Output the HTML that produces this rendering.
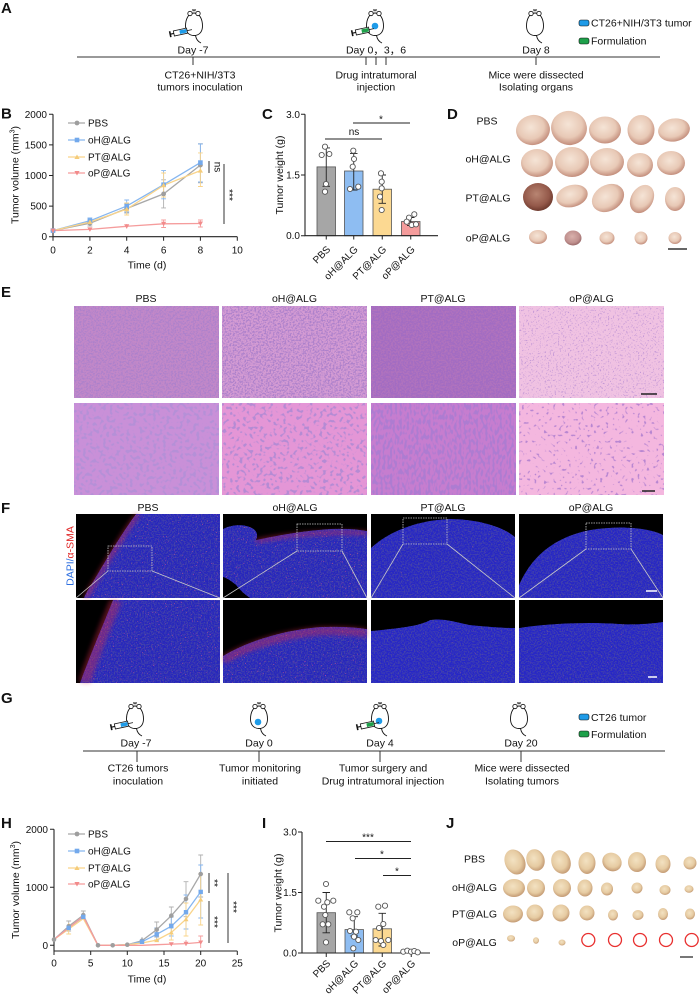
<!DOCTYPE html>
<html><head><meta charset="utf-8"><style>
html,body{margin:0;padding:0;background:#fff;}
svg{display:block;}
text{font-family:"Liberation Sans","Noto Sans CJK SC",Arial,sans-serif;fill:#111;}
</style></head><body>
<svg width="700" height="998" viewBox="0 0 700 998" xmlns="http://www.w3.org/2000/svg">
<defs>
 <g id="mouse">
  <path d="M0,-11 C6,-11 8.5,-4 8.5,2 C8.5,8 5,11.5 0,11.5 C-5,11.5 -8.5,8 -8.5,2 C-8.5,-4 -6,-11 0,-11 Z" fill="#fff" stroke="#111" stroke-width="0.9"/>
  <circle cx="-4" cy="-10.5" r="2.2" fill="#fff" stroke="#111" stroke-width="0.8"/>
  <circle cx="4" cy="-10.5" r="2.2" fill="#fff" stroke="#111" stroke-width="0.8"/>
  <path d="M-2,-14.5 L2,-13 M-2,-13 L2,-14.5 M0,-15 L0,-12.5" stroke="#111" stroke-width="0.6"/>
  <path d="M1.5,11.5 Q2.5,17 7,19" fill="none" stroke="#111" stroke-width="0.9"/>
 </g>
 <g id="syrB">
  <rect x="-21" y="-3" width="1.6" height="6" fill="#111"/>
  <path d="M-19.5,0 H-16.5" stroke="#111" stroke-width="1.2"/>
  <rect x="-16.5" y="-2.6" width="13.5" height="5.2" fill="#fff" stroke="#111" stroke-width="0.8"/>
  <rect x="-10.5" y="-1.8" width="7" height="3.6" fill="#1e9be8"/>
  <path d="M-3,0 H2" stroke="#111" stroke-width="0.8"/>
 </g>
 <g id="syrG">
  <rect x="-21" y="-3" width="1.6" height="6" fill="#111"/>
  <path d="M-19.5,0 H-16.5" stroke="#111" stroke-width="1.2"/>
  <rect x="-16.5" y="-2.6" width="13.5" height="5.2" fill="#fff" stroke="#111" stroke-width="0.8"/>
  <rect x="-10.5" y="-1.8" width="7" height="3.6" fill="#1ea04a"/>
  <path d="M-3,0 H2" stroke="#111" stroke-width="0.8"/>
 </g>
 <radialGradient id="tD" cx="45%" cy="40%" r="60%">
  <stop offset="0%" stop-color="#f5e4d6"/><stop offset="65%" stop-color="#e8c9b6"/><stop offset="100%" stop-color="#c48f7d"/>
 </radialGradient>
 <radialGradient id="tDd" cx="45%" cy="40%" r="60%">
  <stop offset="0%" stop-color="#b88572"/><stop offset="70%" stop-color="#94594a"/><stop offset="100%" stop-color="#6e3a2e"/>
 </radialGradient>
 <radialGradient id="tDp" cx="45%" cy="40%" r="60%">
  <stop offset="0%" stop-color="#d9b1ac"/><stop offset="70%" stop-color="#c0908e"/><stop offset="100%" stop-color="#9a6a6a"/>
 </radialGradient>
 <radialGradient id="tJ" cx="45%" cy="40%" r="60%">
  <stop offset="0%" stop-color="#f3e2c2"/><stop offset="65%" stop-color="#e6cba2"/><stop offset="100%" stop-color="#c49b74"/>
 </radialGradient>
 <filter id="eT" x="0" y="0" width="1" height="1">
  <feTurbulence type="fractalNoise" baseFrequency="0.6" numOctaves="2" seed="2"/>
  <feColorMatrix type="matrix" values="0 0 0 0 0.42  0 0 0 0 0.22  0 0 0 0 0.6  5 0 0 0 -2.2"/>
 </filter>
 <filter id="eTd" x="0" y="0" width="1" height="1">
  <feTurbulence type="fractalNoise" baseFrequency="0.6" numOctaves="2" seed="5"/>
  <feColorMatrix type="matrix" values="0 0 0 0 0.36  0 0 0 0 0.15  0 0 0 0 0.54  5 0 0 0 -1.9"/>
 </filter>
 <filter id="eTl" x="0" y="0" width="1" height="1">
  <feTurbulence type="fractalNoise" baseFrequency="0.6" numOctaves="2" seed="9"/>
  <feColorMatrix type="matrix" values="0 0 0 0 0.5  0 0 0 0 0.28  0 0 0 0 0.66  5 0 0 0 -2.9"/>
 </filter>
 <filter id="eB" x="0" y="0" width="1" height="1">
  <feTurbulence type="fractalNoise" baseFrequency="0.3" numOctaves="1" seed="3"/>
  <feColorMatrix type="matrix" values="0 0 0 0 0.46  0 0 0 0 0.28  0 0 0 0 0.68  9 0 0 0 -4.7"/>
 </filter>
 <filter id="eB2" x="0" y="0" width="1" height="1">
  <feTurbulence type="fractalNoise" baseFrequency="0.3" numOctaves="1" seed="21"/>
  <feColorMatrix type="matrix" values="0 0 0 0 0.46  0 0 0 0 0.26  0 0 0 0 0.66  9 0 0 0 -4.9"/>
 </filter>
 <filter id="eBd" x="0" y="0" width="1" height="1">
  <feTurbulence type="fractalNoise" baseFrequency="0.42 0.2" numOctaves="1" seed="4"/>
  <feColorMatrix type="matrix" values="0 0 0 0 0.42  0 0 0 0 0.2  0 0 0 0 0.64  9 0 0 0 -4.3"/>
 </filter>
 <filter id="eBl" x="0" y="0" width="1" height="1">
  <feTurbulence type="fractalNoise" baseFrequency="0.32" numOctaves="1" seed="8"/>
  <feColorMatrix type="matrix" values="0 0 0 0 0.48  0 0 0 0 0.24  0 0 0 0 0.64  9 0 0 0 -5.5"/>
 </filter>
 <filter id="fB" x="0" y="0" width="1" height="1">
  <feTurbulence type="fractalNoise" baseFrequency="0.7" numOctaves="2" seed="7" result="n"/>
  <feColorMatrix in="n" type="matrix" values="0 0 0 0 0.06  0 0 0 0 0.06  0 0 0 0 0.38  4 0 0 0 -1.8" result="d"/>
  <feTurbulence type="fractalNoise" baseFrequency="0.9" numOctaves="1" seed="11" result="m"/>
  <feColorMatrix in="m" type="matrix" values="0 0 0 0 0.95  0 0 0 0 0.1  0 0 0 0 0.2  12 0 0 0 -9.2" result="r"/>
  <feMerge result="all"><feMergeNode in="SourceGraphic"/><feMergeNode in="d"/><feMergeNode in="r"/></feMerge>
  <feComposite in="all" in2="SourceGraphic" operator="in"/>
 </filter>
 <filter id="fR" x="0" y="0" width="1" height="1">
  <feTurbulence type="fractalNoise" baseFrequency="0.7" numOctaves="2" seed="13" result="n"/>
  <feColorMatrix in="n" type="matrix" values="0 0 0 0 0.06  0 0 0 0 0.06  0 0 0 0 0.38  4 0 0 0 -1.8" result="d"/>
  <feTurbulence type="fractalNoise" baseFrequency="0.9" numOctaves="1" seed="17" result="m"/>
  <feColorMatrix in="m" type="matrix" values="0 0 0 0 0.95  0 0 0 0 0.1  0 0 0 0 0.2  12 0 0 0 -8.5" result="r"/>
  <feMerge result="all"><feMergeNode in="SourceGraphic"/><feMergeNode in="d"/><feMergeNode in="r"/></feMerge>
  <feComposite in="all" in2="SourceGraphic" operator="in"/>
 </filter>
 <filter id="blur2"><feGaussianBlur stdDeviation="2"/></filter>
 <clipPath id="cF1"><rect x="76" y="514" width="144" height="84"/></clipPath>
 <clipPath id="cF2"><rect x="223" y="514" width="144" height="84"/></clipPath>
 <clipPath id="cF5"><rect x="76" y="600" width="144" height="83"/></clipPath>
 <clipPath id="cF6"><rect x="223" y="600" width="144" height="83"/></clipPath>
</defs>

<!-- ================= A ================= -->
<text x="1" y="13" font-size="15" font-weight="bold">A</text>
<use href="#mouse" x="194" y="24"/>
<use href="#syrB" transform="translate(190,30) rotate(-12)"/>
<use href="#mouse" x="375" y="24"/>
<circle cx="375" cy="26" r="3.3" fill="#1e9be8"/>
<use href="#syrG" transform="translate(372,29) rotate(-12)"/>
<use href="#mouse" x="535" y="24"/>
<rect x="579" y="20" width="10" height="6" rx="2" fill="#1e9be8" stroke="#111" stroke-width="0.6"/>
<text x="591" y="26.5" font-size="10.5">CT26+NIH/3T3 tumor</text>
<rect x="579" y="38" width="10" height="6" rx="2" fill="#1ea04a" stroke="#111" stroke-width="0.6"/>
<text x="591" y="44.5" font-size="10.5">Formulation</text>
<text x="193" y="53.5" font-size="10.5" text-anchor="middle">Day -7</text>
<text x="376" y="53.5" font-size="10.5" text-anchor="middle">Day 0，3，6</text>
<text x="536" y="53.5" font-size="10.5" text-anchor="middle">Day 8</text>
<path d="M77,57 H660 M193,57 V65 M366,57 V65 M376,57 V65 M386,57 V65 M536,57 V65" stroke="#333" stroke-width="1"/>
<text x="200" y="78.5" font-size="10.5" text-anchor="middle">CT26+NIH/3T3</text>
<text x="200" y="90.5" font-size="10.5" text-anchor="middle">tumors inoculation</text>
<text x="376" y="78.5" font-size="10.5" text-anchor="middle">Drug intratumoral</text>
<text x="376" y="90.5" font-size="10.5" text-anchor="middle">injection</text>
<text x="536" y="78.5" font-size="10.5" text-anchor="middle">Mice were dissected</text>
<text x="536" y="90.5" font-size="10.5" text-anchor="middle">Isolating organs</text>

<!-- ================= B ================= -->
<text x="1" y="118.5" font-size="15" font-weight="bold">B</text>
<path d="M53,114.3 V236.7 H237.3" fill="none" stroke="#222" stroke-width="1.1"/>
<path d="M49,114.3 H53 M49,144.9 H53 M49,175.5 H53 M49,206.1 H53 M49,236.7 H53 M53,236.7 V240.7 M89.9,236.7 V240.7 M126.7,236.7 V240.7 M163.6,236.7 V240.7 M200.4,236.7 V240.7 M237.3,236.7 V240.7" stroke="#222" stroke-width="1"/>
<g font-size="10" text-anchor="end">
<text x="47" y="117.8">2000</text><text x="47" y="148.4">1500</text><text x="47" y="179">1000</text><text x="47" y="209.6">500</text><text x="47" y="240.2">0</text>
</g>
<g font-size="10" text-anchor="middle">
<text x="53" y="253.5">0</text><text x="89.9" y="253.5">2</text><text x="126.7" y="253.5">4</text><text x="163.6" y="253.5">6</text><text x="200.4" y="253.5">8</text><text x="237.3" y="253.5">10</text>
<text x="147" y="268.5" font-size="10.5">Time (d)</text>
</g>
<text transform="translate(18.5,175) rotate(-90)" font-size="10.5" text-anchor="middle">Tumor volume (mm<tspan font-size="7" dy="-4">3</tspan><tspan dy="4">)</tspan></text>
<g stroke-width="0.9" fill="none">
<path stroke="#b0b0b0" d="M200.4,143.7 V182.8 M198,143.7 H202.8 M198,182.8 H202.8 M163.6,179.8 V207.9 M161.2,179.8 H166 M161.2,207.9 H166 M126.7,204 V213 M124.3,204 H129.1 M124.3,213 H129.1 M89.9,220 V226 M87.5,220 H92.3 M87.5,226 H92.3"/>
<path stroke="#86b6ef" d="M200.4,144 V182 M198,144 H202.8 M198,182 H202.8 M163.6,170.6 V198.8 M161.2,170.6 H166 M161.2,198.8 H166 M126.7,200 V212 M124.3,200 H129.1 M124.3,212 H129.1 M89.9,218 V224 M87.5,218 H92.3 M87.5,224 H92.3"/>
<path stroke="#f9d48a" d="M200.4,152.9 V186.5 M198,152.9 H202.8 M198,186.5 H202.8 M163.6,173 V197 M161.2,173 H166 M161.2,197 H166 M126.7,203 V215 M124.3,203 H129.1 M124.3,215 H129.1"/>
<path stroke="#f59c9c" d="M200.4,220 V227 M198,220 H202.8 M198,227 H202.8 M163.6,220 V227.5 M161.2,220 H166 M161.2,227.5 H166 M126.7,224 V228.5"/>
</g>
<g fill="none" stroke-width="1.3">
<polyline stroke="#a8a8a8" points="53,230.6 89.9,223.2 126.7,208.5 163.6,193.9 200.4,165.1"/>
<polyline stroke="#86b6ef" points="53,230.6 89.9,220.8 126.7,206.1 163.6,184.7 200.4,162.6"/>
<polyline stroke="#f9d48a" points="53,230.6 89.9,222 126.7,209.2 163.6,185.3 200.4,170.6"/>
<polyline stroke="#f59c9c" points="53,230.6 89.9,229.4 126.7,226.3 163.6,223.8 200.4,223.5"/>
</g>
<g fill="#9e9e9e"><circle cx="53" cy="230.6" r="2.4"/><circle cx="89.9" cy="223.2" r="2.4"/><circle cx="126.7" cy="208.5" r="2.4"/><circle cx="163.6" cy="193.9" r="2.4"/><circle cx="200.4" cy="165.1" r="2.4"/></g>
<g fill="#73a9ec"><rect x="50.7" y="228.3" width="4.6" height="4.6"/><rect x="87.6" y="218.5" width="4.6" height="4.6"/><rect x="124.4" y="203.8" width="4.6" height="4.6"/><rect x="161.3" y="182.4" width="4.6" height="4.6"/><rect x="198.1" y="160.3" width="4.6" height="4.6"/></g>
<g fill="#f5cc7a"><path d="M89.9,219.5 l2.6,4.5 h-5.2z M126.7,206.7 l2.6,4.5 h-5.2z M163.6,182.8 l2.6,4.5 h-5.2z M200.4,168.1 l2.6,4.5 h-5.2z"/></g>
<g fill="#f28b8b"><path d="M89.9,231.9 l2.6,-4.5 h-5.2z M126.7,228.8 l2.6,-4.5 h-5.2z M163.6,226.3 l2.6,-4.5 h-5.2z M200.4,226 l2.6,-4.5 h-5.2z M53,233.1 l2.6,-4.5 h-5.2z"/></g>
<path d="M68,123 H85" stroke="#a8a8a8" stroke-width="1.3"/><circle cx="77" cy="123" r="2.4" fill="#9e9e9e"/>
<text x="88" y="126.5" font-size="10">PBS</text>
<path d="M68,140 H85" stroke="#86b6ef" stroke-width="1.3"/><rect x="74.7" y="137.7" width="4.6" height="4.6" fill="#73a9ec"/>
<text x="88" y="143.5" font-size="10">oH@ALG</text>
<path d="M68,157 H85" stroke="#f9d48a" stroke-width="1.3"/><path d="M77,154.5 l2.6,4.5 h-5.2z" fill="#f5cc7a"/>
<text x="88" y="160.5" font-size="10">PT@ALG</text>
<path d="M68,173 H85" stroke="#f59c9c" stroke-width="1.3"/><path d="M77,175.5 l2.6,-4.5 h-5.2z" fill="#f28b8b"/>
<text x="88" y="176.5" font-size="10">oP@ALG</text>
<path d="M209,161 V173 M224,164 V224" stroke="#333" stroke-width="1"/>
<text transform="translate(214.5,167) rotate(90)" font-size="10" text-anchor="middle">ns</text>
<text transform="translate(226,195) rotate(90)" font-size="10" text-anchor="middle">***</text>

<!-- ================= C ================= -->
<text x="262" y="119" font-size="15" font-weight="bold">C</text>
<g stroke="#555" stroke-width="0.8">
<rect x="317" y="166.9" width="18.5" height="68.8" fill="#a6a6a6"/>
<rect x="344.5" y="171" width="18.5" height="64.7" fill="#8ebdf2"/>
<rect x="373" y="189.2" width="18.5" height="46.5" fill="#fcd992"/>
<rect x="401.5" y="221.5" width="18.5" height="14.2" fill="#f59c9c"/>
</g>
<path d="M305,114.3 V235.7 H438" fill="none" stroke="#222" stroke-width="1.1"/>
<path d="M301,114.3 H305 M301,175 H305 M301,235.7 H305 M326.25,235.7 V239.5 M353.75,235.7 V239.5 M382.25,235.7 V239.5 M410.75,235.7 V239.5" stroke="#222" stroke-width="1"/>
<g font-size="10" text-anchor="end">
<text x="300" y="117.8">3.0</text><text x="300" y="178.5">1.5</text><text x="300" y="239.2">0.0</text>
</g>
<text transform="translate(283,175) rotate(-90)" font-size="10.5" text-anchor="middle">Tumor weight (g)</text>
<g stroke="#222" stroke-width="0.9" fill="none">
<path d="M326.25,147.9 V186.3 M322.5,147.9 H330 M322.5,186.3 H330"/>
<path d="M353.75,153.6 V190 M350,153.6 H357.5 M350,190 H357.5"/>
<path d="M382.25,175 V203.3 M378.5,175 H386 M378.5,203.3 H386"/>
<path d="M410.75,217.5 V225.6 M407,217.5 H414.5 M407,225.6 H414.5"/>
</g>
<g fill="#fff" stroke="#555" stroke-width="0.9">
<circle cx="325" cy="146.7" r="2.6"/><circle cx="321.7" cy="155" r="2.6"/><circle cx="329.3" cy="154" r="2.6"/><circle cx="326" cy="184" r="2.6"/><circle cx="325" cy="191.7" r="2.6"/>
<circle cx="353.3" cy="150.7" r="2.6"/><circle cx="354" cy="159" r="2.6"/><circle cx="352.7" cy="166.7" r="2.6"/><circle cx="350" cy="189" r="2.6"/><circle cx="358.3" cy="186.7" r="2.6"/>
<circle cx="381" cy="173.3" r="2.6"/><circle cx="381.7" cy="181.7" r="2.6"/><circle cx="381.7" cy="188.3" r="2.6"/><circle cx="380" cy="196.7" r="2.6"/><circle cx="381.7" cy="210" r="2.6"/>
<circle cx="414.3" cy="214.3" r="2.6"/><circle cx="409" cy="217.7" r="2.6"/><circle cx="406.7" cy="221.7" r="2.6"/><circle cx="411.7" cy="225" r="2.6"/><circle cx="416" cy="224.3" r="2.6"/>
</g>
<path d="M325,139 H382 M353,123 H410" stroke="#222" stroke-width="1"/>
<text x="354" y="135" font-size="10" text-anchor="middle">ns</text>
<text x="381" y="122.5" font-size="10" text-anchor="middle">*</text>
<g font-size="10" text-anchor="end">
<text transform="translate(331,250) rotate(-45)">PBS</text>
<text transform="translate(358.5,250) rotate(-45)">oH@ALG</text>
<text transform="translate(387,250) rotate(-45)">PT@ALG</text>
<text transform="translate(415.5,250) rotate(-45)">oP@ALG</text>
</g>

<!-- ================= D ================= -->
<text x="447" y="119" font-size="15" font-weight="bold">D</text>
<g font-size="10.5" text-anchor="middle">
<text x="487" y="124.5">PBS</text><text x="488" y="162.5">oH@ALG</text><text x="488" y="201.5">PT@ALG</text><text x="488" y="241.5">oP@ALG</text>
</g>
<g fill="url(#tD)">
<ellipse cx="533" cy="130" rx="17" ry="15" transform="rotate(-10 533 130)"/>
<ellipse cx="569" cy="128" rx="18" ry="17" transform="rotate(15 569 128)"/>
<ellipse cx="605" cy="130" rx="16" ry="13.5"/>
<ellipse cx="641" cy="130" rx="13.5" ry="15"/>
<ellipse cx="674" cy="130" rx="16" ry="11.5" transform="rotate(-10 674 130)"/>
<ellipse cx="537" cy="163" rx="16" ry="14"/>
<ellipse cx="572" cy="162" rx="17" ry="15"/>
<ellipse cx="607" cy="162" rx="17" ry="14"/>
<ellipse cx="640" cy="165" rx="13" ry="12"/>
<ellipse cx="671" cy="163" rx="14" ry="12"/>
<ellipse cx="572" cy="196" rx="16" ry="11" transform="rotate(-15 572 196)"/>
<ellipse cx="608" cy="198" rx="17" ry="13" transform="rotate(-30 608 198)"/>
<ellipse cx="642" cy="199" rx="11" ry="15" transform="rotate(30 642 199)"/>
<ellipse cx="675" cy="199" rx="10" ry="12"/>
<ellipse cx="538" cy="237" rx="9" ry="7"/>
<ellipse cx="607" cy="238" rx="7.5" ry="6.5"/>
<ellipse cx="641" cy="238" rx="6.5" ry="6.5"/>
<ellipse cx="675" cy="238" rx="6.5" ry="6"/>
</g>
<ellipse cx="538" cy="197" rx="15" ry="14" fill="url(#tDd)"/>
<ellipse cx="573" cy="238" rx="8.5" ry="7.5" fill="url(#tDp)"/>
<path d="M668,249 H687" stroke="#666" stroke-width="2"/>

<!-- ================= E ================= -->
<text x="1" y="297" font-size="15" font-weight="bold">E</text>
<g font-size="10.5" text-anchor="middle">
<text x="146" y="302">PBS</text><text x="294.5" y="302">oH@ALG</text><text x="443" y="302">PT@ALG</text><text x="591.5" y="302">oP@ALG</text>
</g>
<rect x="74" y="306" width="145" height="92" fill="#c288c8"/><rect x="74" y="306" width="145" height="92" filter="url(#eT)"/>
<rect x="222" y="306" width="145" height="92" fill="#d49bd3"/><rect x="222" y="306" width="145" height="92" filter="url(#eT)"/>
<rect x="371" y="306" width="145" height="92" fill="#b173bd"/><rect x="371" y="306" width="145" height="92" filter="url(#eTd)"/>
<rect x="519" y="306" width="145" height="92" fill="#f0c2e2"/><rect x="519" y="306" width="145" height="92" filter="url(#eTl)"/>
<rect x="74" y="403" width="145" height="92" fill="#c990d8"/><rect x="74" y="403" width="145" height="92" filter="url(#eB)"/>
<rect x="222" y="403" width="145" height="92" fill="#e496d6"/><rect x="222" y="403" width="145" height="92" filter="url(#eB2)"/>
<rect x="371" y="403" width="145" height="92" fill="#c67dcf"/><rect x="371" y="403" width="145" height="92" filter="url(#eBd)"/>
<rect x="519" y="403" width="145" height="92" fill="#f4b7df"/><rect x="519" y="403" width="145" height="92" filter="url(#eBl)"/>
<path d="M641,394 H657 M642,491 H655" stroke="#222" stroke-width="1.5"/>

<!-- ================= F ================= -->
<text x="1" y="513" font-size="15" font-weight="bold">F</text>
<g font-size="10.5" text-anchor="middle">
<text x="148" y="511">PBS</text><text x="295" y="511">oH@ALG</text><text x="443" y="511">PT@ALG</text><text x="591" y="511">oP@ALG</text>
</g>
<text transform="translate(73.5,556) rotate(-90)" font-size="10.5" text-anchor="middle"><tspan fill="#2e6fe0">DAPI/</tspan><tspan fill="#e02a2a">α-SMA</tspan></text>
<g fill="#000">
<rect x="76" y="514" width="144" height="84"/><rect x="223" y="514" width="144" height="84"/><rect x="371" y="514" width="144" height="84"/><rect x="519" y="514" width="144" height="84"/>
<rect x="76" y="600" width="144" height="83"/><rect x="223" y="600" width="144" height="83"/><rect x="371" y="600" width="144" height="83"/><rect x="519" y="600" width="144" height="83"/>
</g>
<path d="M136,514 C124,530 112,550 100,570 C92,584 86,592 84,598 L220,598 L220,514 Z" fill="#2828bc" filter="url(#fR)"/>
<path d="M223,529 C232,524 245,524 252,528 C258,531 258,537 256,540 C275,536 300,531 330,529 C350,528 362,530 367,531 L367,598 L250,598 C244,594 240,590 236,585 C230,580 226,578 223,577 Z" fill="#2828bc" filter="url(#fR)"/>
<path d="M371,548 C390,530 420,520 450,519 C480,519 505,528 515,537 L515,598 L371,598 Z" fill="#2828c4" filter="url(#fB)"/>
<path d="M519,585 C530,560 550,538 590,530 C620,525 650,528 663,535 L663,598 L519,598 Z" fill="#2828c4" filter="url(#fB)"/>
<path d="M113,600 L220,600 L220,683 L80,683 C92,650 103,625 113,600 Z" fill="#2828bc" filter="url(#fR)"/>
<path d="M223,656 C250,640 285,630 320,627 C345,626 360,628 367,629 L367,683 L223,683 Z" fill="#2828bc" filter="url(#fR)"/>
<path d="M371,631 C400,628 420,626 430,620 C445,618 455,622 470,625 C490,627 505,628 515,628 L515,683 L371,683 Z" fill="#2828c6" filter="url(#fB)"/>
<path d="M519,628 C550,623 590,622 620,624 C640,625 655,623 663,622 L663,683 L519,683 Z" fill="#2828c6" filter="url(#fB)"/>
<g fill="none" stroke="#d42a4a" opacity="0.4" filter="url(#blur2)">
<path clip-path="url(#cF1)" d="M138,514 C126,530 114,550 102,570 C94,584 88,592 86,598" stroke-width="6"/>
<path clip-path="url(#cF2)" d="M256,541 C280,536 320,531 367,533" stroke-width="5"/>
<path clip-path="url(#cF5)" d="M116,600 C106,625 95,650 84,683" stroke-width="12"/>
<path clip-path="url(#cF6)" d="M223,660 C250,644 285,634 320,631 C345,630 360,632 367,633" stroke-width="9"/>
</g>
<g fill="none" stroke="#c8c8c8" stroke-width="0.8">
<rect x="108" y="546" width="44" height="25" stroke-dasharray="1.5,1"/>
<rect x="297" y="524" width="45" height="27" stroke-dasharray="1.5,1"/>
<rect x="403" y="518" width="44" height="26" stroke-dasharray="1.5,1"/>
<rect x="586" y="523" width="45" height="26" stroke-dasharray="1.5,1"/>
<path d="M108,571 L76,598 M152,571 L220,598 M297,551 L223,598 M342,551 L367,598 M403,544 L371,598 M447,544 L515,598 M586,549 L519,598 M631,549 L663,598"/>
</g>
<path d="M646,591 H657 M648,677 H657" stroke="#fff" stroke-width="1.5"/>

<!-- ================= G ================= -->
<text x="1" y="703" font-size="15" font-weight="bold">G</text>
<use href="#mouse" x="135" y="717"/>
<use href="#syrB" transform="translate(131,723) rotate(-12)"/>
<use href="#mouse" x="259" y="717"/>
<circle cx="258" cy="722" r="3.3" fill="#1e9be8"/>
<use href="#mouse" x="380" y="717"/>
<circle cx="379" cy="721" r="3.3" fill="#1e9be8"/>
<use href="#syrG" transform="translate(377,723) rotate(-12)"/>
<use href="#mouse" x="519" y="717"/>
<rect x="579" y="714" width="10" height="6" rx="2" fill="#1e9be8" stroke="#111" stroke-width="0.6"/>
<text x="591" y="721" font-size="10.5">CT26 tumor</text>
<rect x="579" y="731" width="10" height="6" rx="2" fill="#1ea04a" stroke="#111" stroke-width="0.6"/>
<text x="591" y="738" font-size="10.5">Formulation</text>
<g font-size="10.5" text-anchor="middle">
<text x="136" y="746.5">Day -7</text><text x="259" y="746.5">Day 0</text><text x="380" y="746.5">Day 4</text><text x="521" y="746.5">Day 20</text>
</g>
<path d="M83,751 H665 M137,751 V762 M259,751 V762 M380,751 V762 M521,751 V762" stroke="#333" stroke-width="1"/>
<g font-size="10.5" text-anchor="middle">
<text x="138" y="771.5">CT26 tumors</text><text x="138" y="784.5">inoculation</text>
<text x="260" y="771.5">Tumor monitoring</text><text x="260" y="784.5">initiated</text>
<text x="383" y="771.5">Tumor surgery and</text><text x="383" y="784.5">Drug intratumoral injection</text>
<text x="522" y="771.5">Mice were dissected</text><text x="522" y="784.5">Isolating tumors</text>
</g>

<!-- ================= H ================= -->
<text x="1" y="828" font-size="15" font-weight="bold">H</text>
<path d="M54,829.3 V951 H237.3" fill="none" stroke="#222" stroke-width="1.1"/>
<path d="M50,829.3 H54 M50,887.3 H54 M50,945.3 H54 M54,951 V955 M90.7,951 V955 M127.3,951 V955 M164,951 V955 M200.7,951 V955 M237.3,951 V955" stroke="#222" stroke-width="1"/>
<g font-size="10" text-anchor="end">
<text x="48" y="832.8">2000</text><text x="48" y="890.8">1000</text><text x="48" y="948.8">0</text>
</g>
<g font-size="10" text-anchor="middle">
<text x="54" y="966.5">0</text><text x="90.7" y="966.5">5</text><text x="127.3" y="966.5">10</text><text x="164" y="966.5">15</text><text x="200.7" y="966.5">20</text><text x="237.3" y="966.5">25</text>
<text x="147" y="982.5" font-size="10.5">Time (d)</text>
</g>
<text transform="translate(19,890) rotate(-90)" font-size="10.5" text-anchor="middle">Tumor volume (mm<tspan font-size="7" dy="-4">3</tspan><tspan dy="4">)</tspan></text>
<g stroke-width="0.9" fill="none">
<path stroke="#b0b0b0" d="M200.7,855 V897 M198.3,855 H203.1 M198.3,897 H203.1 M186,881.7 V916.7 M183.6,881.7 H188.4 M183.6,916.7 H188.4 M171.3,907 V924 M168.9,907 H173.7 M168.9,924 H173.7 M156.7,922 V937 M154.3,922 H159.1 M154.3,937 H159.1 M142,937 V944 M83.3,911 V919 M80.9,911 H85.7 M80.9,919 H85.7 M68.7,921 V931 M66.3,921 H71.1 M66.3,931 H71.1"/>
<path stroke="#86b6ef" d="M200.7,865 V918 M198.3,865 H203.1 M198.3,918 H203.1 M186,895 V929 M183.6,895 H188.4 M183.6,929 H188.4 M171.3,917 V936 M168.9,917 H173.7 M168.9,936 H173.7 M156.7,928 V940 M154.3,928 H159.1 M154.3,940 H159.1"/>
<path stroke="#f9d48a" d="M200.7,874 V925 M198.3,874 H203.1 M198.3,925 H203.1 M186,903 V936 M183.6,903 H188.4 M183.6,936 H188.4 M171.3,925 V940 M168.9,925 H173.7 M168.9,940 H173.7 M68.7,923 V934 M66.3,934 H71.1"/>
<path stroke="#f59c9c" d="M200.7,936 V948 M198.3,936 H203.1 M186,940 V946"/>
</g>
<g fill="none" stroke-width="1.3">
<polyline stroke="#a8a8a8" points="54,939.5 68.7,926.2 83.3,915.1 98,945.3 112.7,945.3 127.3,944.7 142,940.7 156.7,929.6 171.3,915.7 186,898.9 200.7,874"/>
<polyline stroke="#86b6ef" points="54,939.5 68.7,927.9 83.3,916.9 98,945.3 112.7,945.3 127.3,944.7 142,941.8 156.7,934.3 171.3,926.2 186,912.2 200.7,891.9"/>
<polyline stroke="#f9d48a" points="54,939.5 68.7,929.1 83.3,918.6 98,945.3 112.7,945.3 127.3,944.7 142,943 156.7,940.1 171.3,932.5 186,919.2 200.7,899.5"/>
<polyline stroke="#f59c9c" points="54,939.5 68.7,927.9 83.3,916.3 98,945.3 112.7,945.3 127.3,945.3 142,945.3 156.7,944.7 171.3,944.1 186,943.6 200.7,942.4"/>
</g>
<g fill="#9e9e9e"><circle cx="54" cy="939.5" r="2.3"/><circle cx="68.7" cy="926.2" r="2.3"/><circle cx="83.3" cy="915.1" r="2.3"/><circle cx="98" cy="945.3" r="2.3"/><circle cx="112.7" cy="945.3" r="2.3"/><circle cx="127.3" cy="944.7" r="2.3"/><circle cx="142" cy="940.7" r="2.3"/><circle cx="156.7" cy="929.6" r="2.3"/><circle cx="171.3" cy="915.7" r="2.3"/><circle cx="186" cy="898.9" r="2.3"/><circle cx="200.7" cy="874" r="2.3"/></g>
<g fill="#73a9ec"><rect x="66.5" y="925.7" width="4.4" height="4.4"/><rect x="81.1" y="914.7" width="4.4" height="4.4"/><rect x="139.8" y="939.6" width="4.4" height="4.4"/><rect x="154.5" y="932.1" width="4.4" height="4.4"/><rect x="169.1" y="924" width="4.4" height="4.4"/><rect x="183.8" y="910" width="4.4" height="4.4"/><rect x="198.5" y="889.7" width="4.4" height="4.4"/></g>
<g fill="#f5cc7a"><path d="M156.7,937.8 l2.5,4.3 h-5z M171.3,930.2 l2.5,4.3 h-5z M186,916.9 l2.5,4.3 h-5z M200.7,897.2 l2.5,4.3 h-5z"/></g>
<g fill="#f28b8b"><path d="M186,946 l2.5,-4.3 h-5z M200.7,944.8 l2.5,-4.3 h-5z M171.3,946.5 l2.5,-4.3 h-5z"/></g>
<path d="M68,834 H85" stroke="#a8a8a8" stroke-width="1.3"/><circle cx="77" cy="834" r="2.4" fill="#9e9e9e"/>
<text x="88" y="837.5" font-size="10">PBS</text>
<path d="M68,851 H85" stroke="#86b6ef" stroke-width="1.3"/><rect x="74.7" y="848.7" width="4.6" height="4.6" fill="#73a9ec"/>
<text x="88" y="854.5" font-size="10">oH@ALG</text>
<path d="M68,868 H85" stroke="#f9d48a" stroke-width="1.3"/><path d="M77,865.5 l2.6,4.5 h-5.2z" fill="#f5cc7a"/>
<text x="88" y="871.5" font-size="10">PT@ALG</text>
<path d="M68,884 H85" stroke="#f59c9c" stroke-width="1.3"/><path d="M77,886.5 l2.6,-4.5 h-5.2z" fill="#f28b8b"/>
<text x="88" y="887.5" font-size="10">oP@ALG</text>
<path d="M209,873 V893 M209,901 V943 M228,873 V943" stroke="#333" stroke-width="1"/>
<text transform="translate(211,883) rotate(90)" font-size="10" text-anchor="middle">**</text>
<text transform="translate(211,922) rotate(90)" font-size="10" text-anchor="middle">***</text>
<text transform="translate(230,907) rotate(90)" font-size="10" text-anchor="middle">***</text>

<!-- ================= I ================= -->
<text x="262" y="828" font-size="15" font-weight="bold">I</text>
<g stroke="#555" stroke-width="0.8">
<rect x="317" y="912.7" width="18.5" height="40.3" fill="#a6a6a6"/>
<rect x="345" y="929.6" width="18.5" height="23.4" fill="#8ebdf2"/>
<rect x="373" y="928.8" width="18.5" height="24.2" fill="#fcd992"/>
<rect x="402" y="951.8" width="18.5" height="1.2" fill="#f59c9c"/>
</g>
<path d="M302,832 V953 H430" fill="none" stroke="#222" stroke-width="1.1"/>
<path d="M298,832 H302 M298,892.5 H302 M298,953 H302 M326.25,953 V957 M354.25,953 V957 M382.25,953 V957 M411.25,953 V957" stroke="#222" stroke-width="1"/>
<g font-size="10" text-anchor="end">
<text x="297" y="835.5">3.0</text><text x="297" y="896">1.5</text><text x="297" y="956.5">0.0</text>
</g>
<text transform="translate(281.5,893) rotate(-90)" font-size="10.5" text-anchor="middle">Tumor weight (g)</text>
<g stroke="#222" stroke-width="0.9" fill="none">
<path d="M326.25,892.5 V932.8 M322.5,892.5 H330 M322.5,932.8 H330"/>
<path d="M354.25,916.7 V936 M350.5,916.7 H358 M350.5,936 H358"/>
<path d="M382.25,913.3 V946 M378.5,913.3 H386 M378.5,946 H386"/>
</g>
<g fill="#fff" stroke="#555" stroke-width="0.9">
<circle cx="326" cy="884" r="2.6"/><circle cx="318.3" cy="900.7" r="2.6"/><circle cx="327.3" cy="902.3" r="2.6"/><circle cx="333.3" cy="900.7" r="2.6"/><circle cx="324" cy="906.7" r="2.6"/><circle cx="325.3" cy="915" r="2.6"/><circle cx="322.7" cy="924.3" r="2.6"/><circle cx="328.3" cy="924.3" r="2.6"/><circle cx="326" cy="942.3" r="2.6"/>
<circle cx="349.3" cy="912.3" r="2.6"/><circle cx="357.3" cy="912.3" r="2.6"/><circle cx="352.7" cy="918.3" r="2.6"/><circle cx="350" cy="931" r="2.6"/><circle cx="356" cy="931.7" r="2.6"/><circle cx="354" cy="936.7" r="2.6"/><circle cx="358.3" cy="940" r="2.6"/><circle cx="353.3" cy="948.3" r="2.6"/>
<circle cx="378.3" cy="906.7" r="2.6"/><circle cx="385" cy="905.7" r="2.6"/><circle cx="383.3" cy="924" r="2.6"/><circle cx="375.7" cy="940" r="2.6"/><circle cx="381" cy="941" r="2.6"/><circle cx="388.3" cy="940" r="2.6"/><circle cx="383.3" cy="945" r="2.6"/><circle cx="379" cy="928" r="2.6"/>
<circle cx="403.3" cy="951.7" r="2.6"/><circle cx="407.3" cy="950.7" r="2.6"/><circle cx="411" cy="951.7" r="2.6"/><circle cx="414.3" cy="951" r="2.6"/><circle cx="417.7" cy="952.3" r="2.6"/>
</g>
<path d="M326,841.5 H411 M355,858.5 H411 M383,875.5 H411" stroke="#222" stroke-width="1"/>
<g font-size="10" text-anchor="middle">
<text x="368" y="840.5">***</text><text x="382" y="857.5">*</text><text x="397" y="874.5">*</text>
</g>
<g font-size="10" text-anchor="end">
<text transform="translate(331,964) rotate(-45)">PBS</text>
<text transform="translate(359,964) rotate(-45)">oH@ALG</text>
<text transform="translate(387,964) rotate(-45)">PT@ALG</text>
<text transform="translate(416,964) rotate(-45)">oP@ALG</text>
</g>

<!-- ================= J ================= -->
<text x="446" y="828" font-size="15" font-weight="bold">J</text>
<g font-size="10.5" text-anchor="middle">
<text x="474.5" y="862.5">PBS</text><text x="474.5" y="891">oH@ALG</text><text x="474.5" y="917.5">PT@ALG</text><text x="474.5" y="946">oP@ALG</text>
</g>
<g fill="url(#tJ)">
<ellipse cx="515" cy="862" rx="10" ry="13" transform="rotate(-25 515 862)"/>
<ellipse cx="535.5" cy="860" rx="9" ry="11" transform="rotate(-20 535.5 860)"/>
<ellipse cx="561" cy="862" rx="9.5" ry="12" transform="rotate(-20 561 862)"/>
<ellipse cx="587" cy="863" rx="8.5" ry="11"/>
<ellipse cx="612" cy="862" rx="10" ry="9" transform="rotate(35 612 862)"/>
<ellipse cx="637" cy="862" rx="9" ry="10"/>
<ellipse cx="663" cy="864" rx="7.5" ry="9"/>
<ellipse cx="690" cy="863" rx="6.5" ry="6.5"/>
<ellipse cx="514" cy="888" rx="11" ry="9"/>
<ellipse cx="536" cy="888" rx="9" ry="9"/>
<ellipse cx="562" cy="888" rx="9" ry="9"/>
<ellipse cx="585" cy="888" rx="7.5" ry="8.5"/>
<ellipse cx="607" cy="889" rx="6" ry="6.5"/>
<ellipse cx="637" cy="888" rx="5.5" ry="5.5"/>
<ellipse cx="665" cy="890" rx="5.5" ry="5"/>
<ellipse cx="689" cy="889" rx="4.5" ry="3.8"/>
<ellipse cx="513" cy="914" rx="10" ry="8.5"/>
<ellipse cx="535" cy="913" rx="8.5" ry="8.5"/>
<ellipse cx="561" cy="913" rx="8.5" ry="8.5"/>
<ellipse cx="587" cy="913" rx="7.5" ry="7.5"/>
<ellipse cx="613" cy="915" rx="5" ry="5.5"/>
<ellipse cx="638" cy="915" rx="5.5" ry="5"/>
<ellipse cx="663" cy="914" rx="5" ry="6"/>
<ellipse cx="690" cy="914" rx="5" ry="5.5"/>
<ellipse cx="511" cy="938.3" rx="4" ry="3.2"/>
<ellipse cx="536" cy="940.5" rx="3" ry="3.2"/>
<ellipse cx="562" cy="942.5" rx="3.5" ry="3"/>
</g>
<g fill="none" stroke="#e8302f" stroke-width="1.3">
<circle cx="588.3" cy="940" r="6.5"/><circle cx="615" cy="940" r="6.5"/><circle cx="640" cy="940" r="6.5"/><circle cx="666" cy="940" r="6.5"/><circle cx="691.7" cy="940" r="6.5"/>
</g>
<path d="M680,957 H693" stroke="#777" stroke-width="2"/>
</svg>
</body></html>
